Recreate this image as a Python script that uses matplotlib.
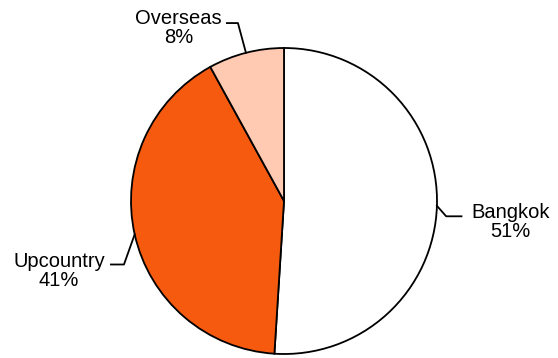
import numpy as np
import matplotlib
matplotlib.use("Agg")
from matplotlib import pyplot as plt

labels = ['Bangkok', 'Upcountry', 'Overseas']
shares = [51, 41, 8]
colors = ['#FFFFFF', '#F55A0F', '#FFC9B2']

# leader line layout: elbow and end offsets (data units), text position
elbows = [(1.06, -0.10), (-1.046, -0.415), (-0.301, 1.163)]
ends = [(1.16, -0.10), (-1.131, -0.415), (-0.373, 1.163)]
text_pos = [(1.48, -0.135), (-1.47, -0.46), (-0.69, 1.13)]

plt.rcParams['font.family'] = ['Liberation Sans', 'DejaVu Sans']

fig = plt.figure(figsize=(5.58, 3.58), dpi=100)
cx, cy, r = 284, 201, 153
ax = fig.add_axes([(cx - r) / 558, (358 - cy - r) / 358, 2 * r / 558, 2 * r / 358])

wedges, _ = ax.pie(shares, colors=colors, startangle=90, counterclock=False,
                   radius=1, wedgeprops=dict(edgecolor='black', linewidth=1.3))
ax.set_xlim(-1, 1)
ax.set_ylim(-1, 1)
ax.set_aspect('equal')
ax.axis('off')

for i, w in enumerate(wedges):
    ang = np.deg2rad((w.theta1 + w.theta2) / 2)
    x0, y0 = np.cos(ang), np.sin(ang)
    xs = [x0, elbows[i][0], ends[i][0]]
    ys = [y0, elbows[i][1], ends[i][1]]
    ax.plot(xs, ys, color='black', linewidth=1.3, clip_on=False)
    ax.text(text_pos[i][0], text_pos[i][1], '{}\n{}%'.format(labels[i], shares[i]),
            ha='center', va='center', fontsize=14.5, linespacing=1.0, clip_on=False)

fig.savefig('out.png', dpi=100)
